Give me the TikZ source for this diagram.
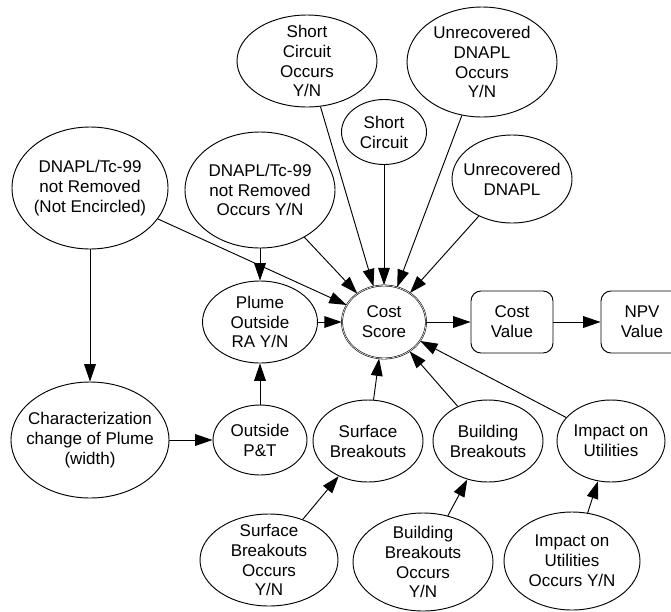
\documentclass[tikz,border=0pt]{standalone}
\usepackage{fontspec}
\setmainfont{Liberation Sans}
\usetikzlibrary{arrows.meta,shapes.geometric}
\begin{document}
\begin{tikzpicture}[x=0.03cm,y=-0.03cm,line width=0.8pt,
  arr/.style={-{Triangle[length=0.52cm,width=0.35cm]}},
  oval/.style 2 args={ellipse,draw,inner sep=0pt,minimum width=#1*0.03cm,minimum height=#2*0.03cm},
  txt/.style={align=center,inner sep=0pt,font=\fontsize{14.5}{17}\selectfont},
  valbox/.style={draw,rounded corners=0.3cm,minimum width=2.46cm,minimum height=1.86cm,txt}]
  \useasboundingbox (0,0) rectangle (671,611);
  \node[oval={156}{122},label={[txt]center:DNAPL/Tc-99\\not Removed\\(Not Encircled)}] (dnr1) at (90,188) {};
  \node[oval={150}{116},label={[txt]center:DNAPL/Tc-99\\not Removed\\Occurs Y/N}] (dnr2) at (260,190) {};
  \node[oval={140}{92},label={[txt]center:Short\\Circuit\\Occurs\\Y/N}] (sco) at (307,61) {};
  \node[oval={85}{65},label={[txt]center:Short\\Circuit}] (sc) at (384,132) {};
  \node[oval={150}{110},label={[txt]center:Unrecovered\\DNAPL\\Occurs\\Y/N}] (udo) at (482,62) {};
  \node[oval={120}{88},label={[txt]center:Unrecovered\\DNAPL}] (ud) at (512,179) {};
  \node[oval={115}{82},label={[txt]center:Plume\\Outside\\RA Y/N}] (po) at (260,322) {};
  \node[oval={84}{73},double,double distance=0.5pt,line width=0.5pt,label={[txt]center:Cost\\Score}] (cs) at (384,322) {};
  \node[valbox] (cv) at (512,322) {Cost\\Value};
  \node[valbox] (npv) at (642,322) {NPV\\Value};
  \node[oval={158}{116},label={[txt]center:Characterization\\change of Plume\\(width)}] (ch) at (90,440) {};
  \node[oval={94}{70},label={[txt]center:Outside\\P\&T}] (opt) at (260,440) {};
  \node[oval={110}{82},label={[txt]center:Surface\\Breakouts}] (sb) at (368,441) {};
  \node[oval={110}{82},label={[txt]center:Building\\Breakouts}] (bb) at (488,441) {};
  \node[oval={108}{82},label={[txt]center:Impact on\\Utilities}] (iu) at (611,441) {};
  \node[oval={138}{92},label={[txt]center:Surface\\Breakouts\\Occurs\\Y/N}] (sbo) at (269,560) {};
  \node[oval={140}{98},label={[txt]center:Building\\Breakouts\\Occurs\\Y/N}] (bbo) at (423,562) {};
  \node[oval={136}{98},label={[txt]center:Impact on\\Utilities\\Occurs Y/N}] (iuo) at (572,561) {};
  \draw[arr] (dnr1) -- (ch);
  \draw[arr] (dnr2) -- (po);
  \draw[arr] (ch) -- (opt);
  \draw[arr] (opt) -- (po);
  \foreach \a in {dnr1,dnr2,sco,sc,udo,ud,po,sb,bb,iu}
    \draw[arr] (\a) -- (cs);
  \draw[arr] (cs) -- (cv);
  \draw[arr] (cv) -- (npv);
  \foreach \a/\b in {sbo/sb,bbo/bb,iuo/iu}
    \draw[arr] (\a) -- (\b);
\end{tikzpicture}
\end{document}
